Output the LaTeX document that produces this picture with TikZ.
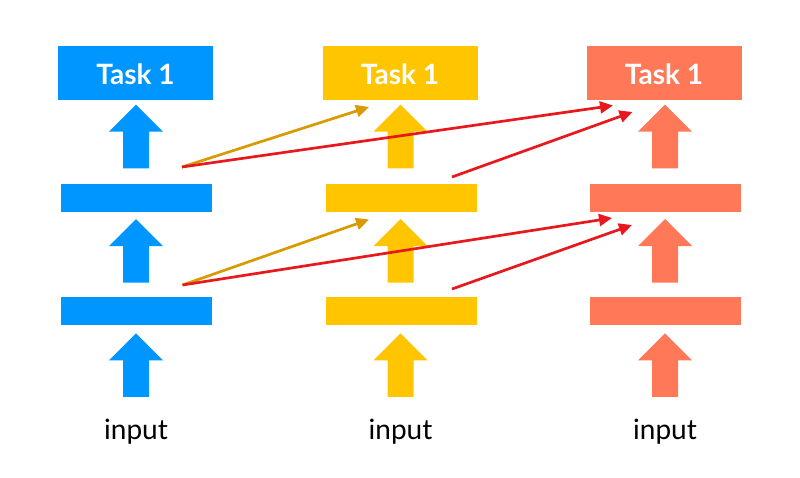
\documentclass[tikz,border=0pt]{standalone}
\usepackage{fontspec}
\setmainfont{Lato}
\usetikzlibrary{arrows.meta}
\definecolor{cblue}{HTML}{0096FF}
\definecolor{cyel}{HTML}{FFC600}
\definecolor{cred}{HTML}{FF7858}
\definecolor{lorange}{HTML}{D99A00}
\definecolor{lred}{HTML}{E8191C}
\tikzset{
  taskbox/.style={minimum width=155pt, minimum height=54pt, inner sep=0pt, text=white, font=\bfseries\fontsize{28}{32}\selectfont},
  barbox/.style={minimum width=151pt, minimum height=28pt, inner sep=0pt},
  inlabel/.style={font=\fontsize{28}{32}\selectfont, text=black, inner sep=0pt, anchor=base},
  link/.style={line width=2.7pt, -{Triangle[length=13pt,width=12pt]}},
  blockarrow/.pic={\fill (0,0) -- (27,27) -- (13,27) -- (13,63.6) -- (-13,63.6) -- (-13,27) -- (-27,27) -- cycle;}
}
\begin{document}
\begin{tikzpicture}[x=1pt,y=-1pt]
\useasboundingbox (0,0) rectangle (800,477);
% task boxes
\node[taskbox, fill=cblue] (t1) at (135.5,73) {};
\node[taskbox, fill=cyel] (t2) at (400,73) {};
\node[taskbox, fill=cred] (t3) at (664,73) {};
\node[taskbox, anchor=base] (t1l) at (135.5,84) {Task 1};
\node[taskbox, anchor=base] (t2l) at (400,84) {Task 1};
\node[taskbox, anchor=base] (t3l) at (664,84) {Task 1};
% bars
\node[barbox, fill=cblue] (u1) at (136.5,198) {};
\node[barbox, fill=cyel] (u2) at (401,198) {};
\node[barbox, fill=cred] (u3) at (665,198) {};
\node[barbox, fill=cblue] (l1) at (136.5,311) {};
\node[barbox, fill=cyel] (l2) at (401,311) {};
\node[barbox, fill=cred] (l3) at (665,311) {};
% inputs
\node[inlabel] (i1) at (136,439) {input};
\node[inlabel] (i2) at (400.5,439) {input};
\node[inlabel] (i3) at (665,439) {input};
% block arrows
\foreach \cx/\col in {136/cblue,400.5/cyel,665/cred}{
  \foreach \ty in {104.7,219,333.3}{
    \pic[fill=\col] at (\cx,\ty) {blockarrow};
  }
}
% connector endpoints
\coordinate (s1) at (182,167);
\coordinate (s2) at (452,177);
\coordinate (s3) at (182.5,285);
\coordinate (s4) at (452,289);
\coordinate (e1) at (369,107);
\coordinate (e2) at (613,105.5);
\coordinate (e3) at (632.5,112);
\coordinate (e4) at (369,219.5);
\coordinate (e5) at (612,218);
\coordinate (e6) at (632,225);
\draw[link, lorange] (s1) -- (e1);
\draw[link, lred] (s1) -- (e2);
\draw[link, lred] (s2) -- (e3);
\draw[link, lorange] (s3) -- (e4);
\draw[link, lred] (s3) -- (e5);
\draw[link, lred] (s4) -- (e6);
\end{tikzpicture}
\end{document}
